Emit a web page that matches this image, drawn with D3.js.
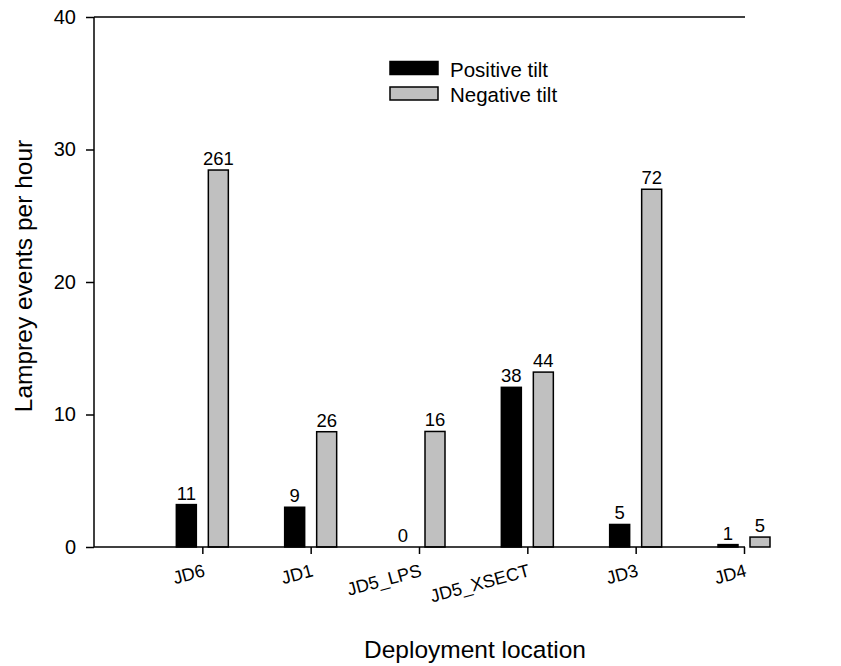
<!DOCTYPE html>
<html>
<head>
<meta charset="utf-8">
<script src="https://cdn.jsdelivr.net/npm/d3@7"></script>
<style>
  body { margin: 0; background: #fff; }
  svg { display: block; font-family: "Liberation Sans", Arial, sans-serif; }
</style>
</head>
<body>
<svg id="chart" width="841" height="666"></svg>
<script>
// Deployment locations along the x axis
const locations = ["JD6", "JD1", "JD5_LPS", "JD5_XSECT", "JD3", "JD4"];
// Lamprey events per hour
const positiveRate = [3.2, 3.0, 0, 12.05, 1.7, 0.18];
const negativeRate = [28.45, 8.7, 8.72, 13.2, 27.0, 0.75];
// Event counts printed above each bar
const positiveCount = [11, 9, 0, 38, 5, 1];
const negativeCount = [261, 26, 16, 44, 72, 5];
const yTicks = [0, 10, 20, 30, 40];
const seriesNames = ["Positive tilt", "Negative tilt"];
const seriesColors = ["#000000", "#c0c0c0"];

const svg = d3.select("#chart");
const plotLeft = 94, plotRight = 744, plotTop = 17, plotBottom = 547;
const fontFamily = "Liberation Sans, Arial, sans-serif";

// Categories sit at positions 1..6 on a linear axis starting at 0
const x = d3.scaleLinear().domain([0, locations.length]).range([plotLeft, plotRight]);
const y = d3.scaleLinear().domain([0, 40]).range([plotBottom, plotTop]);

const barW = 20, offset = 16;

const series = [
  { name: seriesNames[0], rate: positiveRate, count: positiveCount, color: seriesColors[0], dx: -offset },
  { name: seriesNames[1], rate: negativeRate, count: negativeCount, color: seriesColors[1], dx: offset }
];

// Bars with their event counts
series.forEach(s => {
  const rows = locations.map((loc, i) => ({ loc, i, v: s.rate[i], c: s.count[i] }));

  svg.append("g").selectAll("rect")
    .data(rows)
    .join("rect")
    .attr("x", d => x(d.i + 1) + s.dx - barW / 2)
    .attr("y", d => y(d.v))
    .attr("width", barW)
    .attr("height", d => y(0) - y(d.v))
    .attr("fill", s.color)
    .attr("stroke", "#000")
    .attr("stroke-width", d => d.v > 0 ? 1.5 : 0);

  svg.append("g").selectAll("text")
    .data(rows)
    .join("text")
    .attr("x", d => x(d.i + 1) + s.dx)
    .attr("y", d => y(d.v) - 5)
    .attr("text-anchor", "middle")
    .attr("font-size", 18.5)
    .text(d => d.c);
});

// Y axis
const yAxis = d3.axisLeft(y).tickValues(yTicks).tickSize(8).tickPadding(10);
const gy = svg.append("g").attr("transform", `translate(${plotLeft},0)`).call(yAxis);
gy.select(".domain").attr("stroke-width", 1.5).attr("d", `M0,${plotBottom}V${plotTop}`);
gy.selectAll(".tick line").attr("stroke-width", 1.5);
gy.selectAll(".tick text").attr("font-size", 20).attr("fill", "#000")
  .attr("font-family", fontFamily);

// X axis
const xAxis = d3.axisBottom(x).tickValues(d3.range(1, locations.length + 1))
  .tickFormat(d => locations[d - 1]).tickSize(7);
const gx = svg.append("g").attr("transform", `translate(0,${plotBottom})`).call(xAxis);
gx.select(".domain").attr("stroke-width", 1.5).attr("d", `M${plotLeft},0H${plotRight + 1}`);
gx.selectAll(".tick line").attr("stroke-width", 1.5);
gx.selectAll(".tick text")
  .attr("font-size", 18).attr("fill", "#000")
  .attr("font-family", fontFamily)
  .attr("text-anchor", "end")
  .attr("dy", 0)
  .attr("y", 0)
  .attr("transform", "translate(3,29) rotate(-15)");

// Top frame line
svg.append("line")
  .attr("x1", plotLeft).attr("x2", plotRight + 1)
  .attr("y1", plotTop).attr("y2", plotTop)
  .attr("stroke", "#000").attr("stroke-width", 1.5);

// Axis titles
svg.append("text")
  .attr("transform", "translate(32,276) rotate(-90)")
  .attr("text-anchor", "middle")
  .attr("font-size", 24.5)
  .text("Lamprey events per hour");

svg.append("text")
  .attr("x", 475)
  .attr("y", 658)
  .attr("text-anchor", "middle")
  .attr("font-size", 24.5)
  .text("Deployment location");

// Legend
const legend = svg.append("g").attr("transform", "translate(390,61.5)");
series.forEach((s, i) => {
  const g = legend.append("g").attr("transform", `translate(0,${i * 25.5})`);
  g.append("rect").attr("width", 48).attr("height", 13)
    .attr("fill", s.color).attr("stroke", "#000").attr("stroke-width", 1.5);
  g.append("text").attr("x", 60).attr("y", 15).attr("font-size", 20.5).text(s.name);
});
</script>
</body>
</html>
